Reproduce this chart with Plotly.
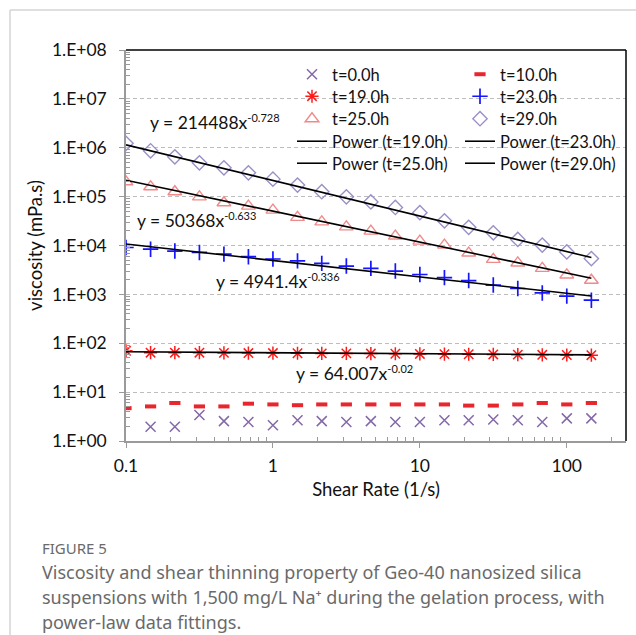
import numpy as np
import plotly.graph_objects as go

# Shear rates (1/s), log-spaced sweep
shear_rate = [0.1, 0.147, 0.215, 0.316, 0.464, 0.681, 1.0, 1.47, 2.15, 3.16,
              4.64, 6.81, 10.0, 14.7, 21.5, 31.6, 46.4, 68.1, 100.0, 147.0]

# Viscosity (mPa.s) at each gelation time
visc_t0 = [None, 1.95, 1.95, 3.4, 2.55, 2.45, 2.1, 2.65, 2.55, 2.45,
           2.55, 2.45, 2.45, 2.65, 2.65, 2.75, 2.65, 2.45, 2.9, 2.9]
visc_t10 = [4.7, 5.1, 6.0, 5.1, 5.1, 5.8, 5.6, 5.4, 5.6, 5.6,
            5.6, 5.6, 5.6, 5.6, 5.3, 5.3, 5.6, 6.0, 5.6, 6.0]
visc_t19 = [70, 64, 64, 64, 63.5, 63, 63, 62.5, 62, 62,
            61.5, 61, 60.5, 60, 59.5, 59, 58.5, 58, 57.5, 57]
visc_t23 = [9100, 8400, 7700, 7200, 6650, 5900, 5300, 4850, 4300, 3800,
            3400, 3000, 2550, 2200, 1920, 1550, 1320, 1070, 920, 760]
visc_t25 = [201000, 159000, 126000, 99000, 75000, 64000, 53000, 37600, 30500, 24100,
            19700, 15600, 12300, 10200, 7000, 5200, 4400, 3400, 2500, 1950]
visc_t29 = [1230000, 867000, 653000, 492000, 389000, 307000, 228000, 172000, 126000, 99000,
            78000, 60000, 47000, 32000, 23500, 18200, 13300, 10200, 7400, 5400]

# Power-law fits y = a * x^b
fit_t19 = (64.007, -0.02)
fit_t23 = (4941.4, -0.336)
fit_t25 = (50368, -0.633)
fit_t29 = (214488, -0.728)

y_tick_vals = [1, 10, 100, 1e3, 1e4, 1e5, 1e6, 1e7, 1e8]
y_tick_text = ["1.E+00", "1.E+01", "1.E+02", "1.E+03", "1.E+04",
               "1.E+05", "1.E+06", "1.E+07", "1.E+08"]
x_tick_vals = [0.1, 1, 10, 100]
x_tick_text = ["0.1", "1", "10", "100"]

FONT = "Lato"
W, H = 636, 635
ML, MR, MT, MB = 126, 10, 50, 194
PW, PH = W - ML - MR, H - MT - MB


def px(x):
    return (x - ML) / PW


def py(y):
    return (H - MB - y) / PH


fig = go.Figure()

# Legend grid: two columns, five rows; one single-entry legend per cell
col_left = [292, 460]
row_top = [57, 79, 101.5, 124, 146]
legend_ids = ["legend"] + [f"legend{i}" for i in range(2, 11)]
cells = [(r, c) for r in range(5) for c in range(2)]

marker_styles = [
    ("t=0.0h", visc_t0, dict(symbol="x-thin-open", size=10, color="#8468a8",
                             line=dict(width=1.5, color="#8468a8"))),
    ("t=10.0h", visc_t10, dict(symbol="line-ew-open", size=8, color="#e8262e",
                               line=dict(width=4, color="#e8262e"))),
    ("t=19.0h", visc_t19, dict(symbol="asterisk-open", size=11, color="#ff1a1a",
                               line=dict(width=1.5, color="#ff1a1a"))),
    ("t=23.0h", visc_t23, dict(symbol="cross-thin-open", size=11, color="#1515ff",
                               line=dict(width=1.7, color="#1515ff"))),
    ("t=25.0h", visc_t25, dict(symbol="triangle-up-open", size=12, color="#ef8a8a",
                               line=dict(width=1.4, color="#ef8a8a"))),
    ("t=29.0h", visc_t29, dict(symbol="diamond-open", size=11, color="#9c8fc8",
                               line=dict(width=1.4, color="#9c8fc8"))),
]
k = 0
for name, vals, mk in marker_styles:
    fig.add_trace(go.Scatter(x=shear_rate, y=vals, mode="markers", name=name,
                             marker=mk, legend=legend_ids[k], showlegend=True))
    k += 1

xs = np.geomspace(shear_rate[0], shear_rate[-1], 60)
fits = [("Power (t=19.0h)", fit_t19), ("Power (t=23.0h)", fit_t23),
        ("Power (t=25.0h)", fit_t25), ("Power (t=29.0h)", fit_t29)]
for name, (a, b) in fits:
    fig.add_trace(go.Scatter(x=xs, y=a * xs ** b, mode="lines", name=name,
                             line=dict(color="black", width=1.6), legend=legend_ids[k],
                             showlegend=True))
    k += 1

eq_font = dict(family=FONT, size=17.5, color="#111")


def power_label(a, b):
    return f'y = {a}x<sup><span style="font-size:11px">{b}</span></sup>'


equations = [
    (power_label("214488", "-0.728"), 0.141, 10 ** 6.52),
    (power_label("50368", "-0.633"), 0.116, 10 ** 4.53),
    (power_label("4941.4", "-0.336"), 0.40, 10 ** 3.27),
    (power_label("64.007", "-0.02"), 1.40, 10 ** 1.39),
]
for text, x, y in equations:
    fig.add_annotation(x=np.log10(x), y=np.log10(y), xref="x", yref="y", text=text,
                       showarrow=False, xanchor="left", yanchor="middle", font=eq_font)

# Plot frame (top and right edges) and the outer card border
fig.add_shape(type="line", xref="paper", yref="paper", x0=0, x1=1, y0=1, y1=1,
              line=dict(color="black", width=1.5))
fig.add_shape(type="line", xref="paper", yref="paper", x0=1, x1=1, y0=0, y1=1,
              line=dict(color="black", width=1.5))
fig.add_shape(type="line", xref="paper", yref="paper", x0=px(10), x1=px(W), y0=py(10), y1=py(10),
              line=dict(color="#d4d4d4", width=1.5))
fig.add_shape(type="line", xref="paper", yref="paper", x0=px(10), x1=px(10), y0=py(10), y1=py(H),
              line=dict(color="#d4d4d4", width=1.5))

cap_font = dict(family="Noto Sans", size=18, color="#6a6a6a")
fig.add_annotation(x=px(40), y=py(548), xref="paper", yref="paper", text="FIGURE 5",
                   showarrow=False, xanchor="left", yanchor="middle",
                   font=dict(family="Noto Sans", size=15, color="#6a6a6a"))
caption = ["Viscosity and shear thinning property of Geo-40 nanosized silica",
           "suspensions with 1,500 mg/L Na⁺ during the gelation process, with",
           "power-law data fittings."]
for i, line in enumerate(caption):
    fig.add_annotation(x=px(40), y=py(572 + 25 * i), xref="paper", yref="paper", text=line,
                       showarrow=False, xanchor="left", yanchor="middle", font=cap_font)

minor_y = [m * 10 ** d for d in range(0, 8) for m in range(2, 10)]
minor_x = [m * 10 ** d for d in range(-1, 3) for m in range(2, 10)]

legend_layout = {}
for lid, (r, c) in zip(legend_ids, cells):
    legend_layout[lid] = dict(orientation="v", yanchor="top", xanchor="left",
                              x=px(col_left[c]), y=py(row_top[r]),
                              bgcolor="rgba(0,0,0,0)", itemwidth=30,
                              font=dict(family=FONT, size=16.5, color="#111"))

fig.update_layout(
    width=W, height=H,
    margin=dict(l=ML, r=MR, t=MT, b=MB),
    paper_bgcolor="white", plot_bgcolor="white",
    showlegend=True,
    font=dict(family=FONT, size=16, color="#111"),
    xaxis=dict(type="log", range=[-1, 2.403], tickvals=x_tick_vals, ticktext=x_tick_text,
               showgrid=False, zeroline=False, showline=True, linecolor="#9a9a9a", linewidth=1.5,
               ticks="outside", ticklen=5, tickcolor="#9a9a9a", ticklabelstandoff=3,
               tickfont=dict(family=FONT, size=17.5, color="#111"),
               minor=dict(tickvals=minor_x, ticks="inside", ticklen=4, tickcolor="#9a9a9a",
                          showgrid=False),
               title=dict(text="Shear Rate (1/s)", standoff=8,
                          font=dict(family=FONT, size=18.5, color="#111"))),
    yaxis=dict(type="log", range=[0, 8], tickvals=y_tick_vals, ticktext=y_tick_text,
               showgrid=True, gridcolor="#bdbdbd", griddash="4px,3px", gridwidth=1,
               zeroline=False, showline=True, linecolor="#9a9a9a", linewidth=1.5,
               ticks="outside", ticklen=5, tickcolor="#9a9a9a", ticklabelstandoff=9,
               tickfont=dict(family=FONT, size=17.5, color="#111"),
               minor=dict(tickvals=minor_y, ticks="inside", ticklen=4, tickcolor="#9a9a9a",
                          showgrid=False),
               title=dict(text="viscosity (mPa.s)", standoff=4,
                          font=dict(family=FONT, size=18.5, color="#111"))),
    **legend_layout,
)

fig.write_html("out.html")
